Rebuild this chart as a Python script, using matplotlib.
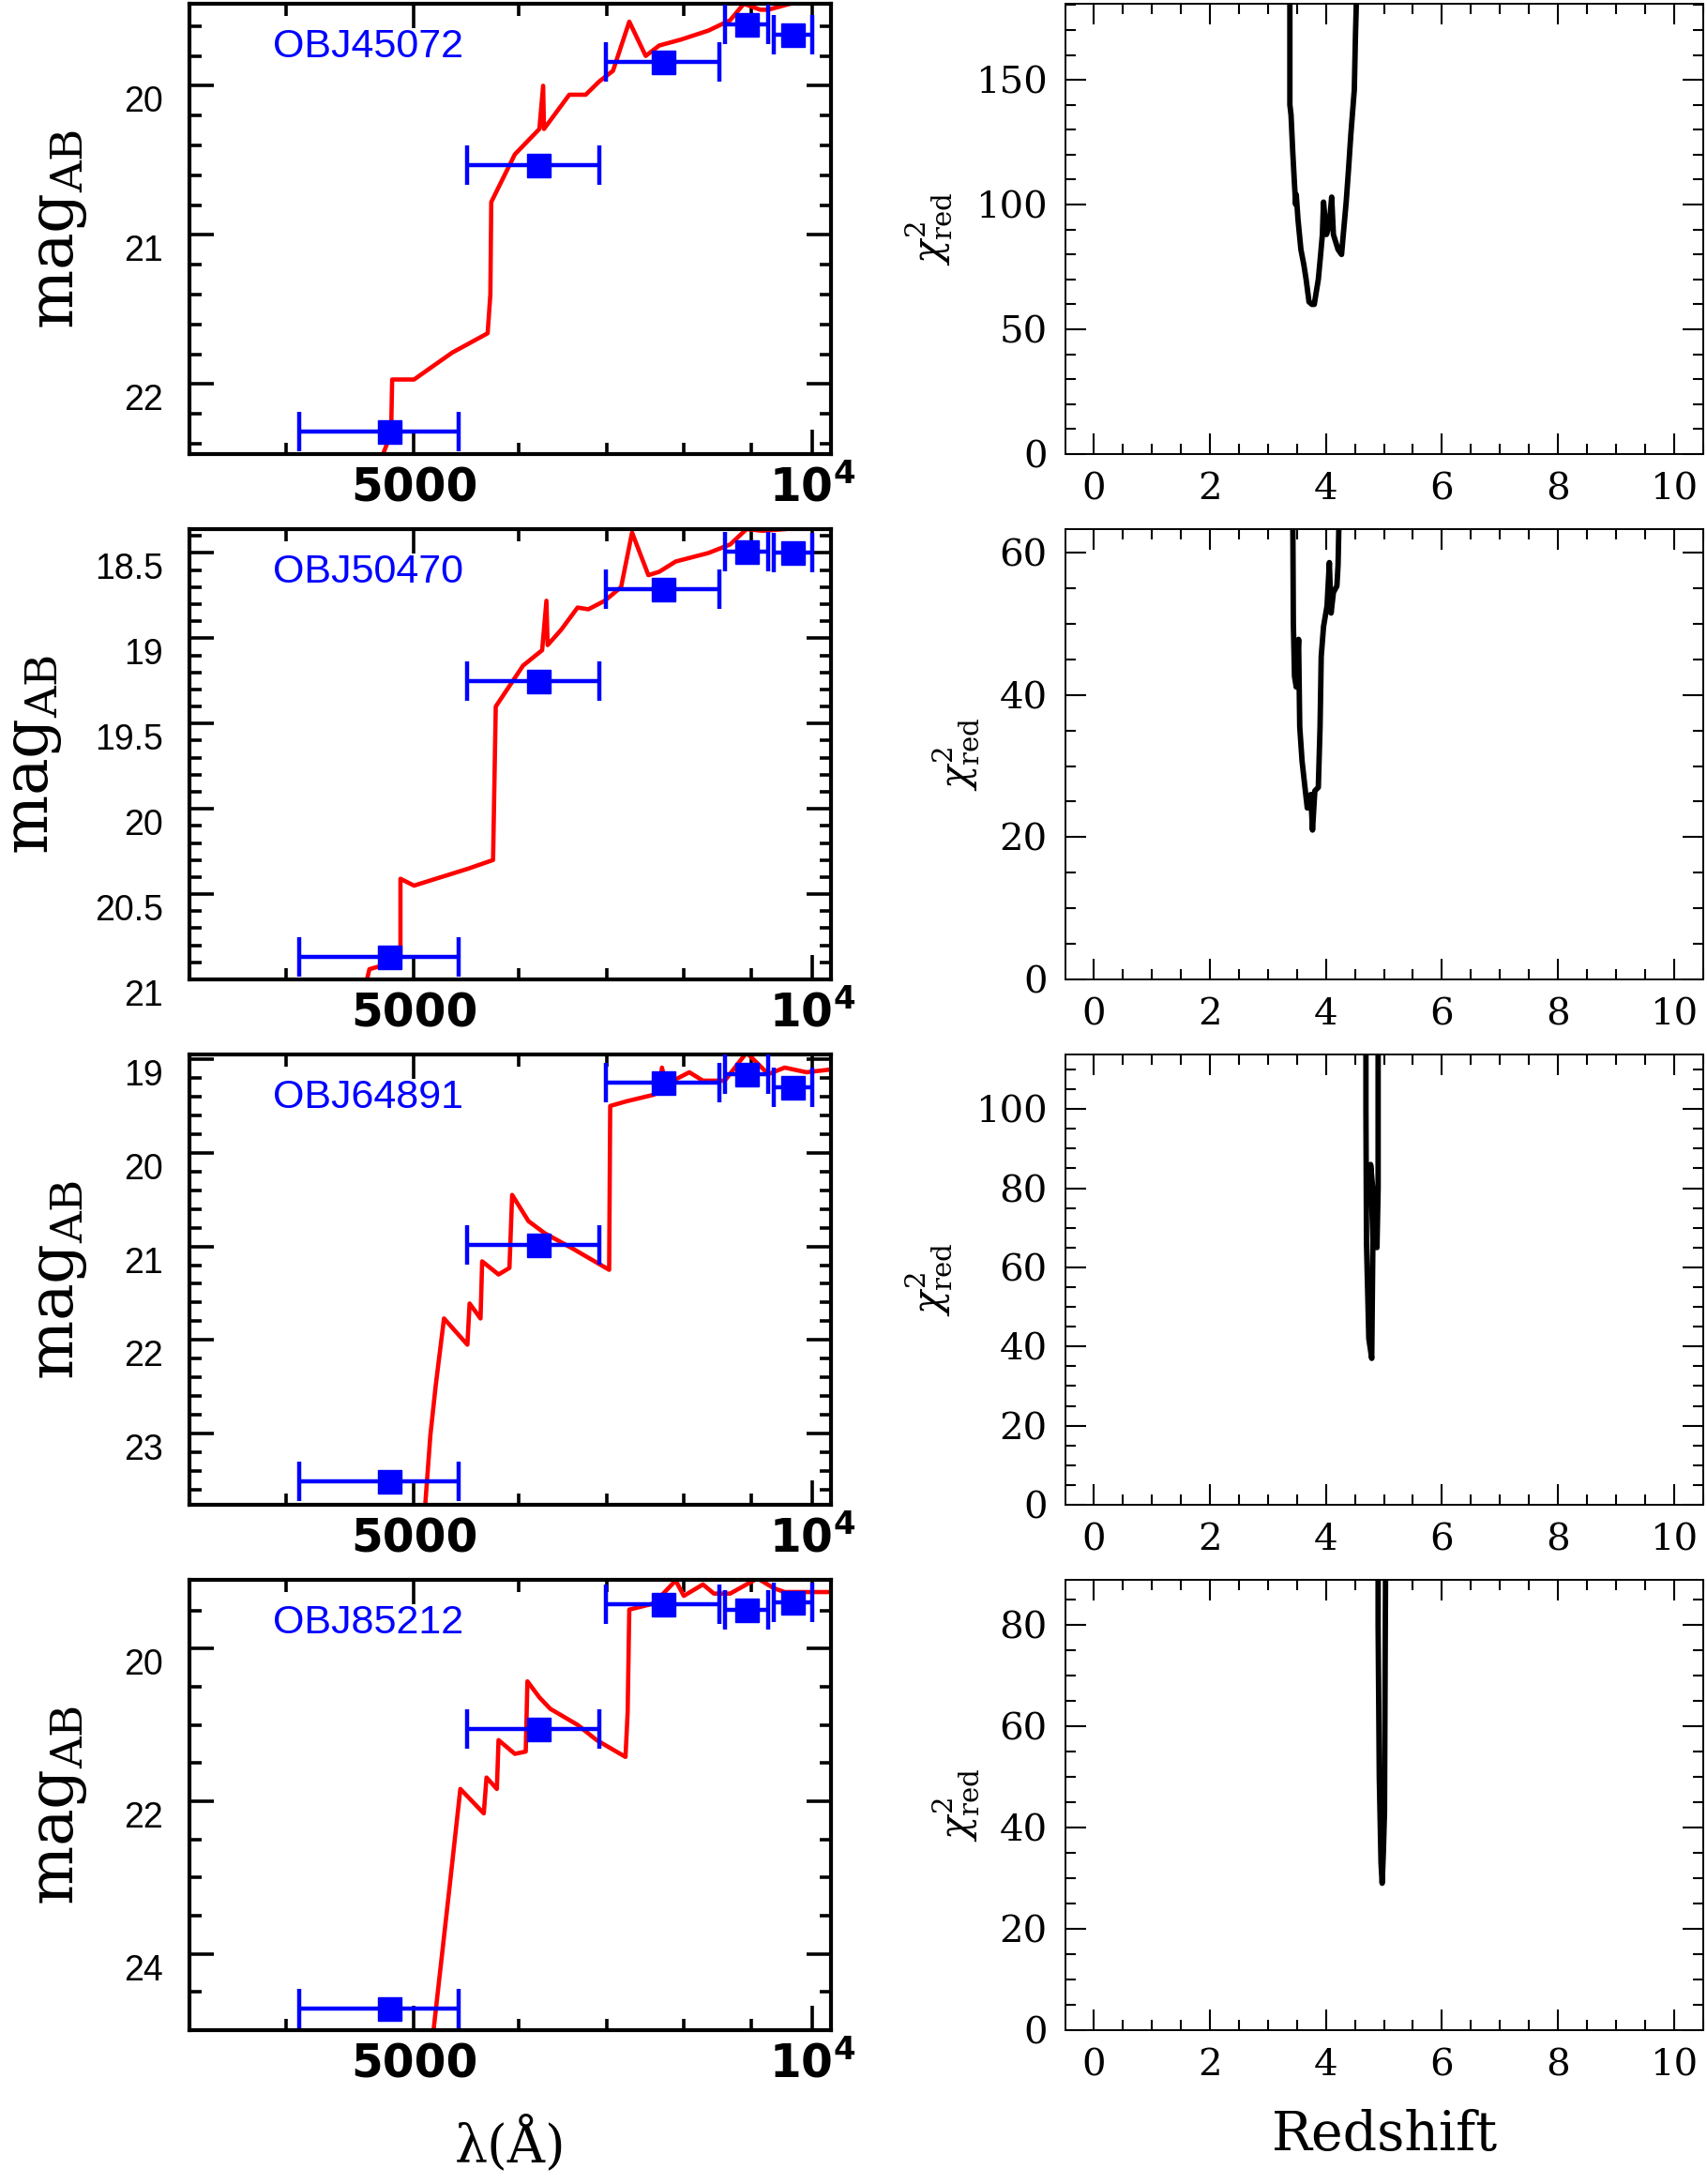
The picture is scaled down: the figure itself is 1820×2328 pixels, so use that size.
import numpy as np
import matplotlib
matplotlib.use("Agg")
import matplotlib.pyplot as plt
from matplotlib.ticker import FixedLocator, MultipleLocator, NullFormatter

plt.rcParams["mathtext.fontset"] = "custom"
plt.rcParams["mathtext.rm"] = "DejaVu Serif"
plt.rcParams["mathtext.it"] = "DejaVu Serif:italic"
plt.rcParams["mathtext.bf"] = "DejaVu Sans:bold"

W, H = 1820, 2328

# ── photometry: filter centres and x-error extent (Å), same for every object ──
band_lam = [4790, 6210, 7720, 8920, 9670]
band_lo = [4090, 5480, 6980, 8590, 9360]
band_hi = [5400, 6910, 8510, 9270, 10000]

names = ["OBJ45072", "OBJ50470", "OBJ64891", "OBJ85212"]

mag_45072 = [22.32, 20.53, 19.84, 19.59, 19.66]
mag_50470 = [20.87, 19.25, 18.71, 18.49, 18.50]
mag_64891 = [23.51, 20.98, 19.25, 19.16, 19.30]
mag_85212 = [24.72, 21.06, 19.42, 19.49, 19.39]

# ── best-fit template (red) ─────────────────────────────────────────────────
sed_lam_45072 = [4723, 4804, 4813, 5000, 5343, 5684, 5711, 5720, 5960, 6220,
                 6261, 6270, 6553, 6743, 6906, 7071, 7275, 7486, 7665, 7962,
                 8350, 8673, 8882, 9138, 9269, 9628, 10338]
sed_mag_45072 = [22.50, 22.33, 21.97, 21.97, 21.79, 21.66, 21.40, 20.78, 20.46, 20.29,
                 20.00, 20.29, 20.06, 20.06, 19.97, 19.90, 19.57, 19.80, 19.73, 19.69,
                 19.63, 19.56, 19.45, 19.49, 19.49, 19.45, 19.40]

sed_lam_50470 = [4600, 4626, 4723, 4883, 4883, 5000, 5193, 5498, 5738, 5765,
                 5904, 6046, 6250, 6297, 6310, 6461, 6648, 6775, 6971, 7172,
                 7310, 7521, 7665, 7887, 8350, 8673, 8924, 9182, 9537]
sed_mag_50470 = [21.02, 20.94, 20.92, 20.87, 20.41, 20.45, 20.41, 20.35, 20.30, 19.40,
                 19.28, 19.16, 19.07, 18.78, 19.04, 18.95, 18.82, 18.83, 18.78, 18.70,
                 18.38, 18.63, 18.61, 18.55, 18.50, 18.45, 18.36, 18.37, 18.36]

sed_lam_64891 = [5096, 5144, 5193, 5268, 5487, 5508, 5614, 5630, 5793, 5904,
                 5932, 6103, 6279, 6585, 7024, 7037, 7240, 7592, 7665, 7701,
                 7753, 8077, 8271, 8591, 8924, 9269, 9537, 9905, 10338]
sed_mag_64891 = [23.80, 23.02, 22.48, 21.77, 22.05, 21.61, 21.77, 21.16, 21.30, 21.23,
                 20.45, 20.73, 20.86, 21.02, 21.25, 19.50, 19.45, 19.38, 19.34, 19.09,
                 19.27, 19.14, 19.23, 19.23, 18.93, 19.16, 19.09, 19.14, 19.11]

sed_lam_85212 = [5169, 5318, 5420, 5646, 5673, 5776, 5793, 5960, 6074, 6092,
                 6220, 6339, 6648, 6873, 7227, 7254, 7275, 7592, 7887, 8000,
                 8271, 8430, 8673, 8924, 9095, 9357, 9537, 10338]
sed_mag_85212 = [25.05, 23.14, 21.84, 22.16, 21.69, 21.84, 21.20, 21.38, 21.35, 20.43,
                 20.64, 20.79, 21.00, 21.20, 21.42, 20.84, 19.49, 19.41, 19.11, 19.31,
                 19.16, 19.28, 19.28, 19.16, 19.08, 19.21, 19.26, 19.26]

# ── reduced chi^2 vs redshift ───────────────────────────────────────────────
z_45072 = [3.38, 3.38, 3.40, 3.43, 3.46, 3.48, 3.49, 3.52, 3.57, 3.62,
           3.66, 3.71, 3.76, 3.80, 3.87, 3.91, 3.94, 3.96, 4.01, 4.06,
           4.10, 4.13, 4.21, 4.27, 4.30, 4.35, 4.39, 4.43, 4.49, 4.51, 4.53]
chi_45072 = [185, 140, 136, 121, 108, 100, 104, 94, 82, 76,
             70, 61, 60, 60, 70, 80, 88, 101, 88, 92,
             103, 88, 82, 80, 88, 101, 114, 128, 146, 168, 185]

z_50470 = [3.43, 3.44, 3.46, 3.49, 3.53, 3.55, 3.59, 3.64, 3.68, 3.74, 3.77, 3.81,
           3.87, 3.90, 3.92, 3.96, 4.02, 4.06, 4.09, 4.13, 4.19, 4.21, 4.23]
chi_50470 = [66, 50.1, 42.6, 41.1, 47.8, 35.5, 30.7, 27.0, 24.1, 26.0, 21.0, 26.5,
             27.0, 35.5, 45.4, 49.6, 52.5, 58.6, 51.5, 54.4, 55.3, 58.2, 66]

z_64891 = [4.69, 4.69, 4.70, 4.74, 4.79, 4.81, 4.77, 4.82, 4.86, 4.88, 4.90, 4.90]
chi_64891 = [120, 100, 66, 42, 37, 67, 86, 78, 77, 65, 80, 120]

z_85212 = [4.90, 4.90, 4.92, 4.95, 4.97, 4.99, 5.01, 5.02, 5.03]
chi_85212 = [95, 80, 50, 33, 29, 35, 43, 70, 95]

obs_mags = [mag_45072, mag_50470, mag_64891, mag_85212]
sed_lams = [sed_lam_45072, sed_lam_50470, sed_lam_64891, sed_lam_85212]
sed_mags = [sed_mag_45072, sed_mag_50470, sed_mag_64891, sed_mag_85212]
zs = [z_45072, z_50470, z_64891, z_85212]
chis = [chi_45072, chi_50470, chi_64891, chi_85212]

# ── per-row axis settings ───────────────────────────────────────────────────
left_ylim = [(22.47, 19.45), (21.0, 18.36), (23.76, 18.95), (25.0, 19.1)]
left_major = [[20, 21, 22], [18.5, 19, 19.5, 20, 20.5, 21],
              [19, 20, 21, 22, 23], [20, 22, 24]]
left_labels = [["20", "21", "22"], ["18.5", "19", "19.5", "20", "20.5", "21"],
               ["19", "20", "21", "22", "23"], ["20", "22", "24"]]
left_minor = [0.2, 0.1, 0.2, 0.5]
left_ylab_x = [-0.157, -0.196, -0.157, -0.157]

right_ymax = [180.5, 63.3, 113.8, 88.9]
right_major = [50, 20, 20, 20]
right_minor = [10, 5, 5, 5]
right_ylab_x = [-0.174, -0.131, -0.174, -0.131]

row_top = [4, 564, 1124, 1684]
row_h = 480


def px_rect(x, top, w, h):
    return [x / W, 1 - (top + h) / H, w / W, h / H]


fig = plt.figure(figsize=(W / 100, H / 100), dpi=100)

for i in range(4):
    # ── left: SED fit ──
    ax = fig.add_axes(px_rect(202, row_top[i], 684, row_h))
    ax.plot(sed_lams[i], sed_mags[i], color="#ff0000", lw=3.3, zorder=2)
    lam = np.array(band_lam)
    ax.errorbar(band_lam, obs_mags[i],
                xerr=[lam - np.array(band_lo), np.array(band_hi) - lam],
                fmt="s", color="#0000ff", ms=18, elinewidth=3.2,
                capsize=15, capthick=3.2, zorder=3)
    ax.set_xscale("log")
    ax.set_xlim(3381, 10338)
    ax.set_ylim(*left_ylim[i])
    ax.xaxis.set_major_locator(FixedLocator([5000, 10000]))
    ax.xaxis.set_minor_locator(FixedLocator([4000, 6000, 7000, 8000, 9000]))
    ax.xaxis.set_minor_formatter(NullFormatter())
    ax.set_xticks([5000, 10000], ["5000", r"$\mathbf{10^{4}}$"],
                  fontsize=35, fontweight="bold", fontfamily="DejaVu Sans")
    ax.set_yticks(left_major[i], left_labels[i],
                  fontsize=27, fontfamily="Liberation Sans")
    ax.yaxis.set_minor_locator(MultipleLocator(left_minor[i]))
    for t in ax.yaxis.get_major_ticks():
        t.label1.set_verticalalignment("top")
    ax.tick_params(which="both", direction="in", top=True, right=True, width=2.6)
    ax.tick_params(which="major", length=19)
    ax.tick_params(which="minor", length=9)
    ax.tick_params(axis="y", pad=20)
    ax.tick_params(axis="x", pad=9)
    for s in ax.spines.values():
        s.set_linewidth(3.0)
    ax.set_ylabel(r"$\mathrm{mag}_{\mathrm{AB}}$", fontsize=48)
    ax.yaxis.set_label_coords(left_ylab_x[i], 0.5)
    ax.text(0.13, 0.905, names[i], transform=ax.transAxes, va="center",
            ha="left", color="#0000ff", fontsize=31, fontfamily="Liberation Sans")
    if i == 3:
        ax.set_xlabel("λ(Å)", fontsize=40, fontfamily="DejaVu Serif")
        ax.xaxis.set_label_coords(0.5, -0.19)

    # ── right: chi^2 vs redshift ──
    axr = fig.add_axes(px_rect(1136, row_top[i], 680, row_h))
    axr.plot(zs[i], chis[i], color="black", lw=4.2)
    axr.set_xlim(-0.485, 10.5)
    axr.set_ylim(0, right_ymax[i])
    axr.xaxis.set_major_locator(MultipleLocator(2))
    axr.xaxis.set_minor_locator(MultipleLocator(0.5))
    axr.yaxis.set_major_locator(MultipleLocator(right_major[i]))
    axr.yaxis.set_minor_locator(MultipleLocator(right_minor[i]))
    axr.tick_params(which="both", direction="in", top=True, right=True, width=1.5,
                    labelsize=29, labelfontfamily="DejaVu Serif")
    axr.tick_params(which="major", length=16)
    axr.tick_params(which="minor", length=8)
    axr.tick_params(axis="y", pad=14)
    axr.tick_params(axis="x", pad=14)
    for s in axr.spines.values():
        s.set_linewidth(1.4)
    axr.set_ylabel(r"$\chi^{2}_{\mathrm{red}}$", fontsize=30)
    axr.yaxis.set_label_coords(right_ylab_x[i], 0.5)
    if i == 3:
        axr.set_xlabel("Redshift", fontsize=41, fontfamily="DejaVu Serif")
        axr.xaxis.set_label_coords(0.5, -0.175)

fig.savefig("out.png", dpi=100)
